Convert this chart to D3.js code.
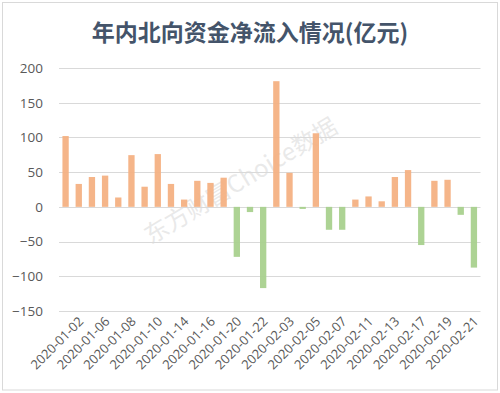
<!DOCTYPE html>
<html>
<head>
<meta charset="utf-8">
<script src="https://cdn.jsdelivr.net/npm/d3@7"></script>
<style>
  body { margin: 0; background: #fff; }
  svg { display: block; }
</style>
</head>
<body>
<div id="my_dataviz"></div>
<script>
// trading days shown on the chart (labels only every other day)
var dates = ["2020-01-02", "2020-01-03", "2020-01-06", "2020-01-07", "2020-01-08", "2020-01-09",
  "2020-01-10", "2020-01-13", "2020-01-14", "2020-01-15", "2020-01-16", "2020-01-17",
  "2020-01-20", "2020-01-21", "2020-01-22", "2020-01-23", "2020-02-03", "2020-02-04",
  "2020-02-05", "2020-02-06", "2020-02-07", "2020-02-10", "2020-02-11", "2020-02-12",
  "2020-02-13", "2020-02-14", "2020-02-17", "2020-02-18", "2020-02-19", "2020-02-20",
  "2020-02-21", "2020-02-24"];
// net northbound inflow, 亿元
var flows = [102, 33, 43, 45, 13.5, 74.5, 29, 76, 33, 10.5, 37.5, 34.5, 42, -72, -7.5, -117,
  181, 49, -3, 106, -33, -33, 10.5, 15, 8, 43, 53, -55, 37.5, 39, -11.5, -87.5];
var yTicks = [-150, -100, -50, 0, 50, 100, 150, 200];
var title = "年内北向资金净流入情况(亿元)";
var watermark = "东方财富Choice数据";

var width = 500, height = 393;
var margin = { top: 68, right: 20, bottom: 82, left: 59 };

var svg = d3.select("#my_dataviz")
    .append("svg")
    .attr("width", width)
    .attr("height", height);

// outer frame
svg.append("rect")
    .attr("x", 2.5).attr("y", 2.5)
    .attr("width", width - 5).attr("height", height - 5.5)
    .attr("fill", "#fff")
    .attr("stroke", "#d9d9d9");

svg.append("text")
    .attr("x", 250)
    .attr("y", 41)
    .attr("text-anchor", "middle")
    .style("font-family", "'Noto Sans CJK SC', sans-serif")
    .style("font-weight", "bold")
    .style("font-size", "23px")
    .style("fill", "#44546a")
    .text(title);

var x = d3.scaleBand()
    .domain(dates)
    .range([margin.left, 480.5])
    .paddingInner(0.52)
    .paddingOuter(0.26);

var y = d3.scaleLinear()
    .domain([-150, 200])
    .range([311, 68]);

// gridlines
svg.append("g")
    .selectAll("line")
    .data(yTicks)
    .join("line")
    .attr("x1", margin.left)
    .attr("x2", 480.5)
    .attr("y1", function (d) { return Math.round(y(d)) + 0.5; })
    .attr("y2", function (d) { return Math.round(y(d)) + 0.5; })
    .attr("stroke", "#d9d9d9")
    .attr("stroke-width", 1);

// watermark
svg.append("text")
    .attr("transform", "translate(245,188) rotate(-31)")
    .attr("text-anchor", "middle")
    .style("font-family", "'Noto Sans CJK SC', sans-serif")
    .style("font-size", "24px")
    .style("fill", "#dadada")
    .style("fill-opacity", 0.6)
    .text(watermark);

// Y axis labels
var yAxis = svg.append("g")
    .attr("transform", "translate(" + (margin.left - 2) + ",0)")
    .call(d3.axisLeft(y).tickValues(yTicks).tickSize(0).tickPadding(14));
yAxis.select(".domain").remove();
yAxis.selectAll("text")
    .style("font-family", "'Open Sans', sans-serif")
    .style("font-size", "13.5px")
    .style("fill", "#595959");

// bars
svg.append("g")
    .selectAll("rect")
    .data(flows)
    .join("rect")
    .attr("x", function (d, i) { return x(dates[i]); })
    .attr("width", x.bandwidth())
    .attr("y", function (d) { return y(Math.max(0, d)); })
    .attr("height", function (d) { return Math.abs(y(d) - y(0)); })
    .attr("fill", function (d) { return d >= 0 ? "#f4b183" : "#a9d18e"; })
    .attr("fill-opacity", 0.95);

// X axis labels, every other date
var xAxis = svg.append("g")
    .attr("transform", "translate(0,311)")
    .call(d3.axisBottom(x)
        .tickValues(dates.filter(function (d, i) { return i % 2 === 0; }))
        .tickSize(0)
        .tickPadding(12));
xAxis.select(".domain").remove();
xAxis.selectAll("text")
    .style("font-family", "'Open Sans', sans-serif")
    .style("font-size", "13px")
    .style("fill", "#595959")
    .style("text-anchor", "end")
    .attr("dx", "0.4em")
    .attr("dy", "0.7em")
    .attr("transform", "rotate(-45)");
</script>
</body>
</html>
